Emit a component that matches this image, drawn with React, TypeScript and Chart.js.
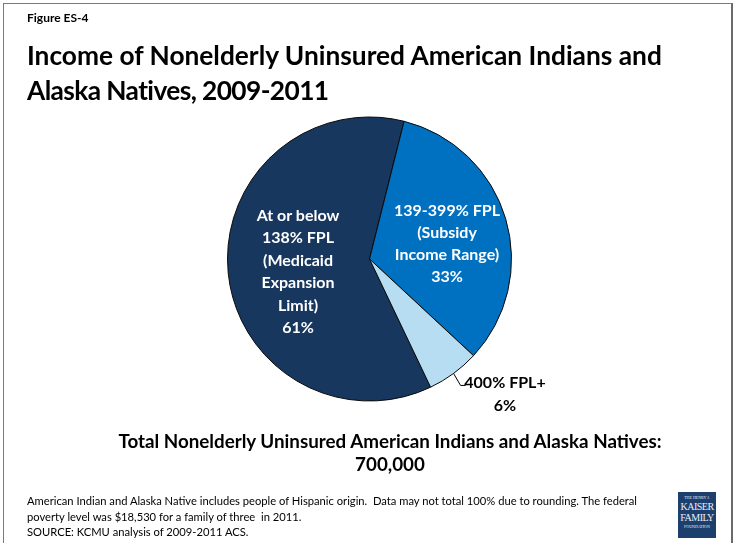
import React, { useEffect, useRef } from "react";
import { Chart, registerables } from "chart.js";

Chart.register(...registerables);

const categories = ["At or below 138% FPL (Medicaid Expansion Limit)", "139-399% FPL (Subsidy Income Range)", "400% FPL+"];
const shares = [61, 33, 6];
const sliceColors = ["#17375E", "#0070C0", "#B7DDF3"];
const leftLabel = ["At or below", "138% FPL", "(Medicaid", "Expansion", "Limit)", "61%"];
const rightLabel = ["139-399% FPL", "(Subsidy", "Income Range)", "33%"];
const smallLabel = ["400% FPL+", "6%"];
const title = ["Income of Nonelderly Uninsured American Indians and", "Alaska Natives, 2009-2011"];
const totalText = ["Total Nonelderly Uninsured American Indians and Alaska Natives:", "700,000"];
const notes = [
  "American Indian and Alaska Native includes people of Hispanic origin.  Data may not total 100% due to rounding. The federal",
  "poverty level was $18,530 for a family of three  in 2011.",
  "SOURCE: KCMU analysis of 2009-2011 ACS.",
];

const FONT = "Lato, 'Open Sans', sans-serif";

const leaderPlugin = {
  id: "leader",
  afterDatasetsDraw(chart: any) {
    const meta = chart.getDatasetMeta(0);
    const arc: any = meta.data[2];
    if (!arc) return;
    const p = arc.getProps(["x", "y", "startAngle", "endAngle", "outerRadius"], true);
    const mid = (p.startAngle + p.endAngle) / 2;
    const sx = p.x + p.outerRadius * Math.cos(mid);
    const sy = p.y + p.outerRadius * Math.sin(mid);
    const ctx = chart.ctx;
    ctx.save();
    ctx.strokeStyle = "#000";
    ctx.lineWidth = 1;
    ctx.beginPath();
    ctx.moveTo(sx, sy);
    ctx.lineTo(sx + 7, sy + 12);
    ctx.lineTo(sx + 12, sy + 12);
    ctx.stroke();
    ctx.restore();
  },
};

export default function App() {
  const ref = useRef<HTMLCanvasElement | null>(null);
  useEffect(() => {
    if (!ref.current) return;
    const chart = new Chart(ref.current, {
      type: "pie",
      data: {
        labels: categories,
        datasets: [
          {
            data: shares,
            backgroundColor: sliceColors,
            borderColor: "#0a0a0a",
            borderWidth: 1,
            hoverOffset: 0,
          },
        ],
      },
      options: {
        responsive: false,
        animation: false,
        devicePixelRatio: 1,
        rotation: 154.5,
        layout: { padding: { left: 227, right: 223, top: 116, bottom: 141 } },
        plugins: { legend: { display: false }, tooltip: { enabled: false } },
      },
      plugins: [leaderPlugin],
    });
    return () => chart.destroy();
  }, []);

  const abs = (style: React.CSSProperties): React.CSSProperties => ({ position: "absolute", whiteSpace: "pre", ...style });

  return (
    <div style={{ position: "fixed", left: 0, top: 0, width: 735, height: 543, background: "#fff", overflow: "hidden", fontFamily: FONT }}>
      <div style={abs({ left: 3, top: 3, width: 727, height: 560, borderLeft: "1px solid #7a7a7a", borderTop: "1px solid #7a7a7a", borderRight: "2px solid #6a6a6a" })} />
      <canvas ref={ref} width={735} height={543} style={{ position: "absolute", left: 0, top: 0 }} />
      <div style={abs({ left: 27, top: 10, fontSize: 12, fontWeight: 700, lineHeight: "16px", color: "#000" })}>Figure ES-4</div>
      {title.map((t, i) => (
        <div key={i} style={abs({ left: 27, top: 38 + i * 35, fontSize: 26.3, fontWeight: 700, lineHeight: "34px", letterSpacing: i === 1 ? -0.6 : 0, color: "#000" })}>{t}</div>
      ))}
      {leftLabel.map((t, i) => (
        <div key={i} style={abs({ left: 223, width: 150, top: 204 + i * 22.4, textAlign: "center", fontSize: 16, fontWeight: 700, lineHeight: "22px", color: "#fff" })}>{t}</div>
      ))}
      {rightLabel.map((t, i) => (
        <div key={i} style={abs({ left: 372, width: 150, top: 199 + i * 22, textAlign: "center", fontSize: 16, fontWeight: 700, lineHeight: "22px", color: "#fff" })}>{t}</div>
      ))}
      {smallLabel.map((t, i) => (
        <div key={i} style={abs({ left: 455, width: 100, top: 371 + i * 23, textAlign: "center", fontSize: 16, fontWeight: 700, lineHeight: "22px", color: "#000" })}>{t}</div>
      ))}
      {totalText.map((t, i) => (
        <div key={i} style={abs({ left: 0, width: 780, top: 429 + i * 23, textAlign: "center", fontSize: 18.8, fontWeight: 700, lineHeight: "24px", color: "#000" })}>{t}</div>
      ))}
      {notes.map((t, i) => (
        <div key={i} style={abs({ left: 27, top: 493 + i * 15.5, fontSize: 11.2, lineHeight: "15px", color: "#000" })}>{t}</div>
      ))}
      <div style={abs({ left: 678, top: 492, width: 38, height: 46, background: "#1c3f6e", color: "#e8eef6", fontFamily: "'Liberation Serif', serif", textAlign: "center", overflow: "hidden" })}>
        <div style={{ fontSize: 4, lineHeight: "6px", marginTop: 3 }}>THE HENRY J.</div>
        <div style={{ fontSize: 10, lineHeight: "11px", letterSpacing: -0.5 }}>KAISER</div>
        <div style={{ fontSize: 10, lineHeight: "11px", letterSpacing: -0.5 }}>FAMILY</div>
        <div style={{ fontSize: 4, lineHeight: "7px" }}>FOUNDATION</div>
      </div>
    </div>
  );
}
